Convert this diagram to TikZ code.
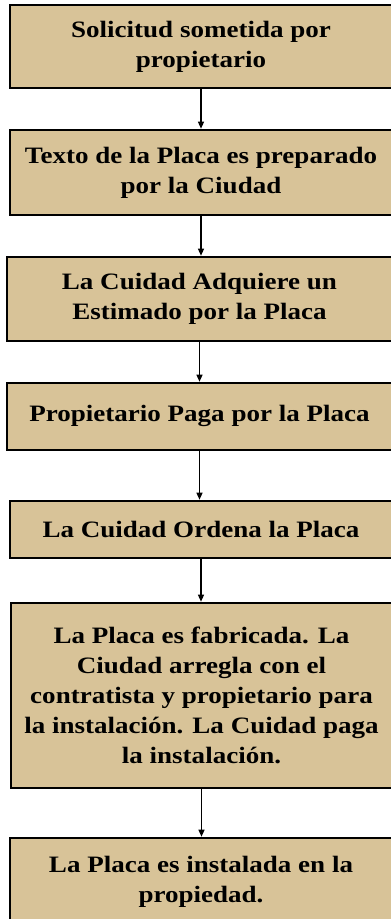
\documentclass[tikz,border=0pt]{standalone}
\usepackage{fontspec}
\setmainfont{Liberation Serif}[FakeStretch=1.15]
\usetikzlibrary{arrows.meta}
\definecolor{boxfill}{RGB}{216,195,152}
\tikzset{
  stepbox/.style={draw=black, fill=boxfill, line width=2.6pt, inner sep=0pt, align=center,
    font=\bfseries\fontsize{23.5pt}{30pt}\selectfont},
  flow/.style={line width=1.2pt, -{Triangle[length=7pt,width=6pt]}}
}
\newcommand{\mkbox}[5]{% name, left, top, bottom, text
  \pgfmathsetmacro{\cx}{(#2+392)/2}
  \pgfmathsetmacro{\cy}{-(#3+#4)/2}
  \pgfmathsetmacro{\bw}{392-#2}
  \pgfmathsetmacro{\bh}{#4-#3}
  \node[stepbox, minimum width=\bw pt, minimum height=\bh pt] (#1) at (\cx pt,\cy pt) {#5};
}
\begin{document}
\begin{tikzpicture}
\useasboundingbox (0,0) rectangle (391pt,-919pt);
\mkbox{b1}{10}{5}{88}{Solicitud sometida por\\propietario}
\mkbox{b2}{10}{130}{215}{Texto de la Placa es preparado\\por la Ciudad}
\mkbox{b3}{7}{257}{341}{La Cuidad Adquiere un\\Estimado por la Placa}
\mkbox{b4}{7}{383}{450}{Propietario Paga por la Placa\\[-24pt]}
\mkbox{b5}{10}{501}{558}{La Cuidad Ordena la Placa}
\mkbox{b6}{11}{603}{788}{La Placa es fabricada. La\\Ciudad arregla con el\\contratista y propietario para\\la instalación. La Cuidad paga\\la instalación.}
\mkbox{b7}{10}{838}{926}{La Placa es instalada en la\\propiedad.}
\draw[flow] (b1.south) -- (b1.south |- b2.north);
\draw[flow] (b2.south) -- (b2.south |- b3.north);
\draw[flow] (b3.south) -- (b3.south |- b4.north);
\draw[flow] (b4.south) -- (b4.south |- b5.north);
\draw[flow] (b5.south) -- (b5.south |- b6.north);
\draw[flow] (b6.south) -- (b6.south |- b7.north);
\end{tikzpicture}
\end{document}
